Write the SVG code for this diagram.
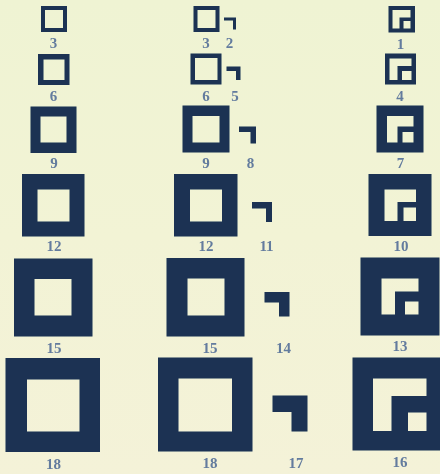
<svg xmlns="http://www.w3.org/2000/svg" width="440" height="474" viewBox="0 0 440 474">
<style>
.s{fill:#1a3152;fill-rule:evenodd}
.t{font-family:"Liberation Serif",serif;font-weight:bold;font-size:15px;fill:#637b9e;text-anchor:middle}
</style>
<defs>
<linearGradient id="bg" x1="0" y1="0" x2="0" y2="1"><stop offset="0" stop-color="#eff3d3"/><stop offset="0.5" stop-color="#f2f3d5"/><stop offset="1" stop-color="#f4f2d8"/></linearGradient>
<filter id="b" x="-5%" y="-5%" width="110%" height="110%"><feGaussianBlur stdDeviation="0.6"/></filter>
</defs>
<rect width="440" height="474" fill="url(#bg)"/>
<g filter="url(#b)">
<g id="left-3"><path class="s" d="M41 6H67V32H41ZM45 10V28H63V10Z"/><text class="t" x="53.5" y="48">3</text></g>
<g id="left-6"><path class="s" d="M38 54H69.5V85H38ZM43.5 59.5V80H64.5V59.5Z"/><text class="t" x="53.5" y="101">6</text></g>
<g id="left-9"><path class="s" d="M30.5 106.5H76.5V153H30.5ZM40.5 116.5V142.5H66.5V116.5Z"/><text class="t" x="54" y="168">9</text></g>
<g id="left-12"><path class="s" d="M22 174H84.5V236.5H22ZM37.5 189.5V221.5H69.5V189.5Z"/><text class="t" x="54" y="251">12</text></g>
<g id="left-15"><path class="s" d="M14 258.5H92.5V336.5H14ZM34.5 279V315.5H71.5V279Z"/><text class="t" x="54" y="353">15</text></g>
<g id="left-18"><path class="s" d="M5.5 358H100V452H5.5ZM27 379.5V431.5H79.5V379.5Z"/><text class="t" x="53.5" y="468.5">18</text></g>

<g id="mid-3"><path class="s" d="M193.5 6H219.5V32H193.5ZM197.5 10V28H215.5V10Z"/><text class="t" x="206" y="48">3</text></g>
<g id="mid-2"><path class="s" d="M224 17.5H236V29.5H233V20.5H224Z"/><text class="t" x="229.5" y="48">2</text></g>
<g id="mid-6"><path class="s" d="M190.5 53.5H221.5V84.5H190.5ZM195 58V80H217.5V58Z"/><text class="t" x="206" y="101">6</text></g>
<g id="mid-5"><path class="s" d="M226.5 66.5H240.5V80H236V71H226.5Z"/><text class="t" x="235" y="101">5</text></g>
<g id="mid-9"><path class="s" d="M182.5 105.5H229.5V152.5H182.5ZM192.5 116V142.5H219.5V116Z"/><text class="t" x="206" y="168">9</text></g>
<g id="mid-8"><path class="s" d="M239 126.5H256V143.5H250.5V132H239Z"/><text class="t" x="250.5" y="168">8</text></g>
<g id="mid-12"><path class="s" d="M174 174H237.5V236.5H174ZM190 189.5V221.5H222V189.5Z"/><text class="t" x="206" y="251">12</text></g>
<g id="mid-11"><path class="s" d="M252 202H272V222H266V208.5H252Z"/><text class="t" x="266.5" y="251">11</text></g>
<g id="mid-15"><path class="s" d="M166.5 258H244.5V336.5H166.5ZM187.5 278.5V315.5H224.5V278.5Z"/><text class="t" x="210" y="352.5">15</text></g>
<g id="mid-14"><path class="s" d="M264.5 292H289.5V316.5H279V302.5H264.5Z"/><text class="t" x="283.5" y="352.5">14</text></g>
<g id="mid-18"><path class="s" d="M158 357.5H252.5V451.5H158ZM178.5 378.5V431.5H232V378.5Z"/><text class="t" x="210" y="468">18</text></g>
<g id="mid-17"><path class="s" d="M272.5 395.5H307.5V431.5H291.5V412H272.5Z"/><text class="t" x="296" y="468">17</text></g>

<g id="right-1"><path class="s" d="M388.5 6H415V32.5H388.5ZM392.5 10V28.5H399.5V17.5H410.5V10ZM403.5 21V28.5H410.5V21Z"/><text class="t" x="400.5" y="49">1</text></g>
<g id="right-4"><path class="s" d="M385 53.5H416V84.5H385ZM389.5 58.5V80H397.5V66H411.5V58.5ZM402 71V80H411.5V71Z"/><text class="t" x="400" y="101">4</text></g>
<g id="right-7"><path class="s" d="M376.5 105.5H423.5V152.5H376.5ZM387 116V142.5H397.5V126.5H413.5V116ZM402.5 132V142.5H413.5V132Z"/><text class="t" x="400.5" y="168">7</text></g>
<g id="right-10"><path class="s" d="M368.5 174H431.5V236H368.5ZM384.5 189.5V221H397.5V202H416V189.5ZM403.5 207.5V221H416V207.5Z"/><text class="t" x="401" y="251">10</text></g>
<g id="right-13"><path class="s" d="M360.5 257.5H439.5V335.5H360.5ZM381.5 278.5V314.5H395V291.5H418.5V278.5ZM405 301.5V314.5H418.5V301.5Z"/><text class="t" x="400" y="351">13</text></g>
<g id="right-16"><path class="s" d="M352.5 357.5H440V450.5H352.5ZM373 378.5V431H391.5V396H426.5V378.5ZM408 412.5V431H426.5V412.5Z"/><text class="t" x="400" y="467">16</text></g>
</g>
</svg>
